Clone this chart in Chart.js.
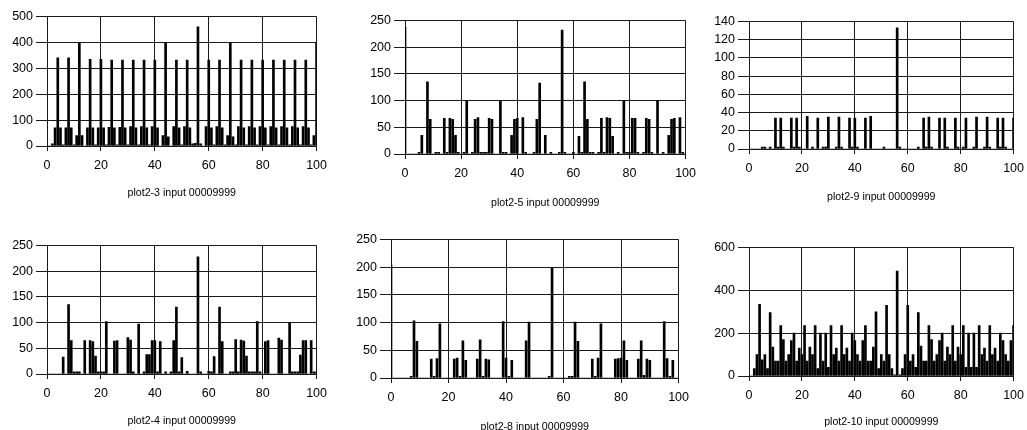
<!DOCTYPE html>
<html>
<head>
<meta charset="utf-8">
<script src="https://cdn.jsdelivr.net/npm/chart.js@4.4.1/dist/chart.umd.min.js"></script>
<style>
  body { margin: 0; background: #fff; width: 1027px; height: 430px; overflow: hidden; position: relative; }
  canvas { position: absolute; }
</style>
</head>
<body>
<script>
// tick labels
const xTicks = [0, 20, 40, 60, 80, 100];
const yTicks500 = [0, 100, 200, 300, 400, 500];
const yTicks250 = [0, 50, 100, 150, 200, 250];
const yTicks140 = [0, 20, 40, 60, 80, 100, 120, 140];
const yTicks600 = [0, 200, 400, 600];

// one value per input position 0..100
const plot2_3 = [
  0, 0, 8, 70, 340, 70, 5, 70, 340, 70,
  5, 40, 400, 40, 0, 70, 335, 70, 5, 70,
  335, 70, 5, 72, 332, 70, 5, 72, 332, 70,
  5, 75, 332, 70, 5, 75, 332, 70, 5, 75,
  332, 70, 0, 40, 400, 35, 0, 75, 332, 70,
  5, 75, 332, 70, 8, 10, 460, 8, 0, 75,
  332, 70, 5, 75, 332, 70, 5, 40, 400, 35,
  5, 75, 332, 70, 5, 75, 332, 70, 5, 75,
  332, 70, 5, 75, 332, 70, 5, 75, 332, 70,
  5, 75, 332, 70, 5, 75, 332, 70, 5, 40,
  400
];
const plot2_5 = [
  237, 0, 0, 0, 0, 3, 35, 0, 135, 65,
  0, 3, 3, 0, 67, 3, 67, 65, 35, 3,
  0, 3, 100, 0, 3, 65, 68, 3, 3, 3,
  67, 65, 0, 0, 100, 3, 3, 0, 35, 65,
  67, 0, 68, 3, 0, 0, 3, 65, 133, 0,
  35, 0, 3, 0, 0, 3, 232, 3, 0, 0,
  3, 0, 33, 3, 135, 65, 3, 3, 0, 3,
  67, 3, 68, 67, 33, 0, 3, 0, 100, 3,
  3, 67, 67, 3, 0, 3, 67, 65, 3, 0,
  100, 0, 3, 0, 35, 65, 67, 0, 68, 3,
  0
];
const plot2_9 = [
  0, 0, 0, 0, 0, 2, 2, 0, 2, 0,
  34, 2, 34, 2, 0, 0, 34, 2, 34, 2,
  0, 0, 36, 0, 2, 0, 34, 0, 2, 2,
  35, 0, 0, 2, 35, 2, 0, 0, 34, 2,
  34, 2, 0, 0, 34, 0, 36, 0, 0, 0,
  0, 2, 0, 0, 0, 0, 133, 2, 0, 0,
  0, 0, 0, 0, 2, 0, 34, 2, 35, 2,
  0, 0, 34, 0, 34, 2, 0, 0, 34, 2,
  0, 2, 34, 0, 0, 2, 35, 0, 0, 2,
  35, 2, 0, 0, 34, 2, 34, 2, 0, 0,
  34
];
const plot2_4 = [
  0, 0, 0, 0, 0, 0, 33, 0, 135, 65,
  4, 4, 4, 0, 65, 0, 65, 63, 35, 4,
  4, 4, 102, 0, 0, 64, 65, 0, 0, 0,
  71, 66, 4, 0, 97, 0, 4, 38, 38, 65,
  65, 4, 63, 0, 4, 0, 4, 65, 130, 4,
  32, 0, 5, 0, 0, 0, 228, 4, 0, 0,
  5, 4, 34, 0, 130, 63, 0, 0, 4, 4,
  67, 4, 66, 64, 35, 4, 4, 4, 102, 4,
  0, 63, 65, 0, 0, 0, 70, 66, 0, 0,
  100, 4, 4, 4, 37, 65, 65, 0, 65, 4,
  4
];
const plot2_8 = [
  204, 0, 0, 0, 0, 0, 0, 3, 103, 66,
  0, 0, 0, 0, 34, 3, 35, 98, 0, 0,
  0, 0, 34, 36, 3, 67, 32, 0, 0, 0,
  34, 69, 3, 34, 33, 0, 0, 0, 0, 102,
  36, 3, 32, 0, 0, 0, 0, 67, 101, 0,
  0, 0, 0, 0, 0, 3, 198, 0, 0, 0,
  0, 0, 3, 3, 101, 66, 0, 0, 0, 0,
  34, 3, 36, 98, 0, 0, 0, 0, 34, 35,
  36, 67, 32, 0, 0, 0, 34, 67, 5, 34,
  32, 0, 0, 0, 0, 102, 35, 3, 32, 0,
  0
];
const plot2_10 = [
  0, 0, 35, 100, 335, 75, 100, 35, 296, 135,
  70, 70, 235, 170, 70, 100, 165, 200, 70, 130,
  100, 235, 70, 135, 100, 235, 35, 200, 70, 200,
  40, 235, 100, 130, 70, 235, 100, 130, 70, 200,
  165, 100, 70, 165, 235, 70, 70, 135, 300, 35,
  100, 70, 330, 100, 35, 5, 490, 5, 35, 100,
  330, 70, 100, 40, 296, 140, 70, 70, 235, 170,
  70, 100, 165, 200, 70, 135, 100, 235, 70, 135,
  100, 235, 40, 200, 40, 200, 40, 235, 100, 130,
  70, 235, 100, 130, 70, 200, 165, 100, 70, 165,
  235
];

const FONT = "'Liberation Sans', Arial, sans-serif";
const GRID = "#1a1a1a";

// plot: [left, top, right, bottom] of the plot frame, titleY = caption centre
function makePanel(title, values, yTicks, plot, titleY) {
  const [left, top, right, bottom] = plot;
  const cl = left - 47, ct = top - 10;
  const cw = right - cl + 16;
  const ch = Math.round(titleY + 7 - ct);
  const canvas = document.createElement("canvas");
  canvas.width = cw;
  canvas.height = ch;
  canvas.style.left = cl + "px";
  canvas.style.top = ct + "px";
  canvas.style.width = cw + "px";
  canvas.style.height = ch + "px";
  document.body.appendChild(canvas);

  new Chart(canvas, {
    type: "bar",
    data: {
      datasets: [{
        data: values.map((v, i) => ({ x: i, y: v })),
        backgroundColor: "#000",
        borderWidth: 0,
        barThickness: 2
      }]
    },
    options: {
      responsive: false,
      animation: false,
      events: [],
      layout: { padding: { top: 10, right: 16, left: 0, bottom: 0 } },
      plugins: { legend: { display: false }, tooltip: { enabled: false } },
      scales: {
        x: {
          type: "linear",
          offset: false,
          min: 0,
          max: 100,
          afterBuildTicks: s => { s.ticks = xTicks.map(v => ({ value: v })); },
          afterFit: s => { s.height = ch - 10 - (bottom - top); },
          grid: { color: GRID, lineWidth: 1, tickLength: 5, offset: false },
          border: { color: GRID },
          ticks: { color: "#000", font: { family: FONT, size: 12.5 }, padding: 7, maxRotation: 0 },
          title: {
            display: true,
            text: title,
            color: "#000",
            font: { family: FONT, size: 10.6, lineHeight: 1.2 },
            padding: 0
          }
        },
        y: {
          min: 0,
          max: yTicks[yTicks.length - 1],
          afterBuildTicks: s => { s.ticks = yTicks.map(v => ({ value: v })); },
          afterFit: s => { s.width = 47; },
          grid: { color: GRID, lineWidth: 1, tickLength: 11 },
          border: { color: GRID },
          ticks: { color: "#000", font: { family: FONT, size: 12.5 }, padding: 3 }
        }
      }
    }
  });
}

makePanel("plot2-3 input 00009999", plot2_3, yTicks500, [47, 16, 318, 146], 192);
makePanel("plot2-5 input 00009999", plot2_5, yTicks250, [405, 20, 687, 154], 202);
makePanel("plot2-9 input 00009999", plot2_9, yTicks140, [749, 21, 1015, 149], 196);
makePanel("plot2-4 input 00009999", plot2_4, yTicks250, [47, 245, 318, 374], 420);
makePanel("plot2-8 input 00009999", plot2_8, yTicks250, [391, 239, 680, 378], 426);
makePanel("plot2-10 input 00009999", plot2_10, yTicks600, [749, 247, 1015, 376], 421);
</script>
</body>
</html>
